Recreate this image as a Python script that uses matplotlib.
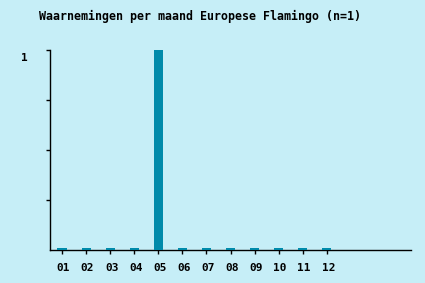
import matplotlib
matplotlib.use("Agg")
import matplotlib.pyplot as plt
from matplotlib.transforms import ScaledTranslation

months = ["01", "02", "03", "04", "05", "06", "07", "08", "09", "10", "11", "12"]
counts = [0, 0, 0, 0, 1, 0, 0, 0, 0, 0, 0, 0]
title = "Waarnemingen per maand Europese Flamingo (n=1)"

bg = "#c6eef7"
bar_color = "#008aaa"

W, H = 425, 283
fig = plt.figure(figsize=(W / 100, H / 100), dpi=100, facecolor=bg)
ax = fig.add_axes([50 / W, (H - 250) / H, 361 / W, 200 / H], facecolor=bg)

x = list(range(1, len(months) + 1))
heights = [max(v, 0.01) for v in counts]
ax.bar(x, heights, width=0.38, color=bar_color, zorder=3)

ax.set_xlim(0.5, 15.5)
ax.set_ylim(0, 1)
ax.set_xticks(x)
ax.set_xticklabels(months)
ax.set_yticks([0.25, 0.5, 0.75, 1])
ax.set_yticklabels(["", "", "", "1"])

for s in ["top", "right"]:
    ax.spines[s].set_visible(False)
for s in ["left", "bottom"]:
    ax.spines[s].set_color("black")
    ax.spines[s].set_linewidth(1)

mono = "DejaVu Sans Mono"
ax.tick_params(axis="x", length=3, width=1, pad=6.5, labelsize=8, colors="black")
ax.tick_params(axis="y", length=3, width=1, pad=13, labelsize=8, colors="black")
for lbl in ax.get_xticklabels():
    lbl.set_fontfamily(mono)
    lbl.set_fontweight("bold")
    lbl.set_transform(lbl.get_transform() + ScaledTranslation(1.5 / 100, 0, fig.dpi_scale_trans))
for lbl in ax.get_yticklabels():
    lbl.set_fontfamily(mono)
    lbl.set_fontweight("bold")
    lbl.set_transform(lbl.get_transform() + ScaledTranslation(0, -7 / 100, fig.dpi_scale_trans))

fig.text(200 / W, 1 - 16 / H, title, ha="center", va="center",
         fontsize=8.4, fontfamily=mono, fontweight="bold", color="black")

fig.savefig("out.png", dpi=100, facecolor=bg)
